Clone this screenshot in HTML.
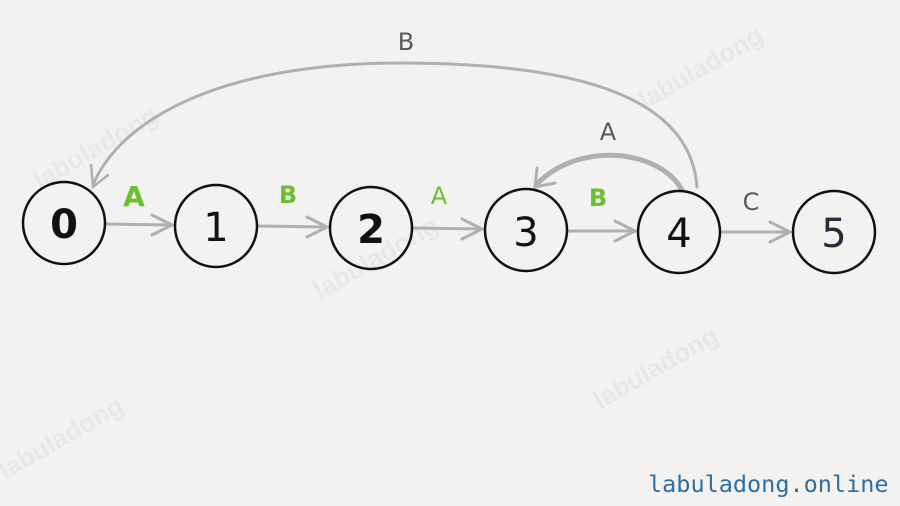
<!DOCTYPE html>
<html><head><meta charset="utf-8"><style>
body{margin:0;background:#f3f2f0;}
svg{display:block}
</style></head><body>
<svg width="900" height="506" viewBox="0 0 900 506" xmlns="http://www.w3.org/2000/svg">
<rect width="900" height="506" fill="#f3f2f0"/>
<g font-family="Liberation Sans, sans-serif" font-weight="bold" font-size="26" fill="#e9e8e6">
<text transform="translate(40,190) rotate(-30)">labuladong</text>
<text transform="translate(645,110) rotate(-30)">labuladong</text>
<text transform="translate(320,300) rotate(-30)">labuladong</text>
<text transform="translate(600,410) rotate(-30)">labuladong</text>
<text transform="translate(5,480) rotate(-30)">labuladong</text>
</g>
<g fill="none" stroke="#b0b0ae" stroke-linecap="round">
<line x1="106" y1="224" x2="172" y2="225" stroke-width="3"/>
<polyline points="152,215 172,225 152,235" stroke-width="3"/>
<line x1="259" y1="226" x2="327" y2="227" stroke-width="3"/>
<polyline points="307,217 327,227 307,237" stroke-width="3"/>
<line x1="413" y1="228" x2="482" y2="229" stroke-width="3"/>
<polyline points="462,219 482,229 462,239" stroke-width="3"/>
<line x1="569" y1="231" x2="635" y2="231" stroke-width="3"/>
<polyline points="615,221 635,231 615,241" stroke-width="3"/>
<line x1="722" y1="232" x2="790" y2="232" stroke-width="3"/>
<polyline points="770,222 790,232 770,242" stroke-width="3"/>
<path d="M697,187 C690,90 560,63 400,63 C220,63 120,120 93,185" stroke-width="3"/>
<polyline points="91,165 93,187 108,175" stroke-width="2.5"/>
<path d="M682,190 C660,150 580,140 537,184" stroke-width="5"/>
<polyline points="537,168 535,187 555,183" stroke-width="3"/>
</g>
<g fill="none" stroke="#111" stroke-width="2.5">
<circle cx="64" cy="223" r="41"/>
<circle cx="216" cy="226" r="41"/>
<circle cx="371" cy="228" r="41"/>
<circle cx="526" cy="230" r="41"/>
<circle cx="679" cy="232" r="41"/>
<circle cx="834" cy="232" r="41"/>
</g>
<g font-family="DejaVu Sans, sans-serif" font-size="40" text-anchor="middle" fill="#111">
<text x="64" y="238" font-weight="bold">0</text>
<text x="216" y="241">1</text>
<text x="371" y="243" font-weight="bold">2</text>
<text x="526" y="246">3</text>
<text x="679" y="247">4</text>
<text x="834" y="247" fill="#2a2a3a">5</text>
</g>
<g font-family="DejaVu Sans, sans-serif" font-size="24" text-anchor="middle">
<text x="134" y="206" fill="#6cbf2e" font-size="28" font-weight="bold">A</text>
<text x="288" y="203" fill="#6cbf2e" font-weight="bold">B</text>
<text x="439" y="204" fill="#6cbf2e">A</text>
<text x="598" y="206" fill="#6cbf2e" font-weight="bold">B</text>
<text x="751" y="210" fill="#555a5e">C</text>
<text x="608" y="140" fill="#555a5e">A</text>
<text x="406" y="50" fill="#555a5e">B</text>
</g>
<text x="648" y="492" font-family="DejaVu Sans Mono, Liberation Mono, monospace" font-size="23.5" fill="#2d6ea3">labuladong.online</text>
</svg>
</body></html>
